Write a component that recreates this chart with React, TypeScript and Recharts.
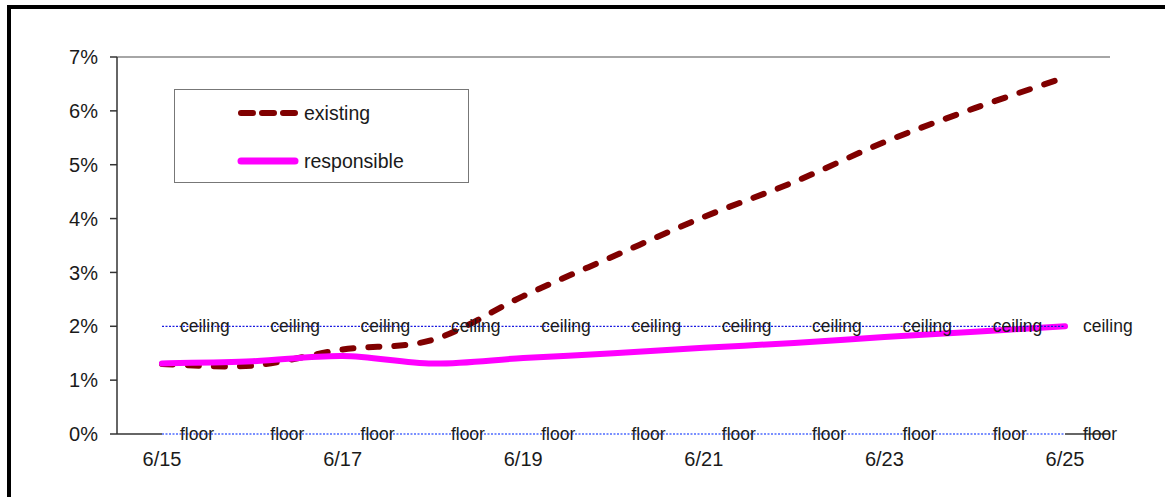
import React from "react";
import {
  LineChart,
  Line,
  XAxis,
  YAxis,
  Legend,
  LabelList,
  ReferenceLine,
} from "recharts";

// Daily dates on the category axis
const dates = ["6/15", "6/16", "6/17", "6/18", "6/19", "6/20", "6/21", "6/22", "6/23", "6/24", "6/25"];

// Rates in percent
const existing = [1.3, 1.27, 1.57, 1.75, 2.56, 3.3, 4.03, 4.68, 5.42, 6.05, 6.62];
const responsible = [1.31, 1.35, 1.45, 1.31, 1.41, 1.5, 1.6, 1.69, 1.8, 1.9, 2.0];
const ceiling = [2, 2, 2, 2, 2, 2, 2, 2, 2, 2, 2];
const floor = [0, 0, 0, 0, 0, 0, 0, 0, 0, 0, 0];

const yTicks = [0, 1, 2, 3, 4, 5, 6, 7];

const data = dates.map((d, i) => ({
  date: d,
  existing: existing[i],
  responsible: responsible[i],
  ceiling: ceiling[i],
  floor: floor[i],
}));

const FONT = "'Liberation Sans', Arial, sans-serif";

// Catmull-Rom style smoothing through every point (spreadsheet "smoothed line")
function smoothCurve(context: any) {
  let pts: number[][] = [];
  return {
    areaStart() {},
    areaEnd() {},
    lineStart() {
      pts = [];
    },
    point(x: number, y: number) {
      pts.push([+x, +y]);
    },
    lineEnd() {
      if (!pts.length) return;
      context.moveTo(pts[0][0], pts[0][1]);
      const t = 1 / 6;
      for (let i = 0; i < pts.length - 1; i++) {
        const p0 = pts[i - 1] || pts[i];
        const p1 = pts[i];
        const p2 = pts[i + 1];
        const p3 = pts[i + 2] || p2;
        context.bezierCurveTo(
          p1[0] + (p2[0] - p0[0]) * t,
          p1[1] + (p2[1] - p0[1]) * t,
          p2[0] - (p3[0] - p1[0]) * t,
          p2[1] - (p3[1] - p1[1]) * t,
          p2[0],
          p2[1]
        );
      }
    },
  };
}

const legendItems = [
  { key: "existing", color: "#800000", dash: "12 9", width: 6 },
  { key: "responsible", color: "#ff00ff", dash: undefined, width: 7 },
];

function LegendBox() {
  return (
    <div
      style={{
        width: 293,
        height: 92,
        border: "1.5px solid #777",
        background: "#fff",
        position: "relative",
        fontFamily: FONT,
      }}
    >
      {legendItems.map((it, i) => (
        <div
          key={it.key}
          style={{
            position: "absolute",
            left: 62,
            top: 9 + i * 48,
            height: 28,
            display: "flex",
            alignItems: "center",
          }}
        >
          <svg width={64} height={28}>
            <line
              x1={4}
              y1={14}
              x2={58}
              y2={14}
              stroke={it.color}
              strokeWidth={it.width}
              strokeDasharray={it.dash}
              strokeLinecap="round"
            />
          </svg>
          <span style={{ fontSize: 19.5, color: "#1a1a1a", marginLeft: 3 }}>{it.key}</span>
        </div>
      ))}
    </div>
  );
}

const makeLabel = (text: string) => (props: any) => {
  const { x, y } = props;
  return (
    <text x={x + 18} y={y} dy={6} fontSize={17.5} fontFamily={FONT} fill="#1a1a1a" textAnchor="start">
      {text}
    </text>
  );
};

export default function App() {
  return (
    <div style={{ position: "absolute", left: 0, top: 0, width: 1165, height: 497, background: "#fff", overflow: "hidden" }}>
      <div
        style={{
          position: "absolute",
          left: 7,
          top: 5,
          width: 1200,
          height: 520,
          borderLeft: "4px solid #000",
          borderTop: "4px solid #000",
        }}
      />
      <LineChart
        width={1165}
        height={497}
        data={data}
        margin={{ top: 57, right: 55, left: 57, bottom: 33 }}
        style={{ position: "absolute", left: 0, top: 0 }}
      >
        <XAxis
          dataKey="date"
          interval={1}
          padding={{ left: 45, right: 45 }}
          tickLine={false}
          tickSize={0}
          tickMargin={18}
          height={30}
          axisLine={false}
          tick={{ fontSize: 20, fontFamily: FONT, fill: "#1a1a1a" }}
        />
        <YAxis
          domain={[0, 7]}
          ticks={yTicks}
          width={60}
          tickFormatter={(v: number) => `${v}%`}
          tickSize={7}
          tickMargin={12}
          axisLine={{ stroke: "#333", strokeWidth: 1.5 }}
          tickLine={{ stroke: "#333", strokeWidth: 1.5 }}
          tick={{ fontSize: 20, fontFamily: FONT, fill: "#1a1a1a" }}
        />
        <YAxis
          yAxisId="frame"
          orientation="right"
          domain={[0, 7]}
          width={0}
          tick={false}
          tickLine={false}
          axisLine={{ stroke: "#888", strokeWidth: 1.5 }}
        />
        <ReferenceLine y={7} stroke="#888" strokeWidth={1.5} />
        <ReferenceLine y={0} stroke="#333" strokeWidth={1.5} />
        <Legend
          layout="horizontal"
          verticalAlign="middle"
          align="center"
          content={() => <LegendBox />}
          wrapperStyle={{ left: 174, top: 89, width: 296, height: 95 }}
        />
        <Line
          dataKey="existing"
          type={smoothCurve as any}
          stroke="#800000"
          strokeWidth={6}
          strokeDasharray="11 15"
          strokeLinecap="round"
          dot={false}
          isAnimationActive={false}
        />
        <Line
          dataKey="responsible"
          type={smoothCurve as any}
          stroke="#ff00ff"
          strokeWidth={6}
          strokeLinecap="round"
          dot={false}
          isAnimationActive={false}
        />
        <Line
          dataKey="ceiling"
          type="linear"
          stroke="#1a1ae0"
          strokeWidth={1.2}
          strokeDasharray="2 1.5"
          dot={false}
          legendType="none"
          isAnimationActive={false}
        >
          <LabelList dataKey="ceiling" content={makeLabel("ceiling")} />
        </Line>
        {/* white backing so the dotted floor reads over the axis */}
        <Line
          dataKey="floor"
          name="floor-backing"
          type="linear"
          stroke="#ffffff"
          strokeWidth={2.5}
          dot={false}
          legendType="none"
          isAnimationActive={false}
        />
        <Line
          dataKey="floor"
          type="linear"
          stroke="#4d6bff"
          strokeWidth={1.5}
          strokeDasharray="2 1.5"
          dot={false}
          legendType="none"
          isAnimationActive={false}
        >
          <LabelList dataKey="floor" content={makeLabel("floor")} />
        </Line>
      </LineChart>
    </div>
  );
}
